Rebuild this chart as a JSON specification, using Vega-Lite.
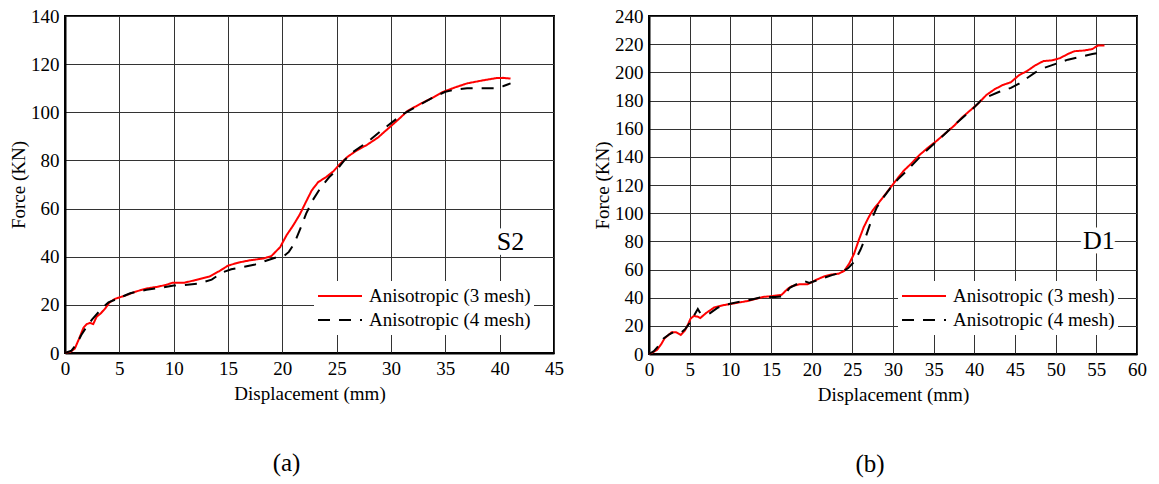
{
  "$schema": "https://vega.github.io/schema/vega-lite/v6.json",
  "padding": {"left": 8, "top": 6, "right": 5, "bottom": 0},
  "background": "white",
  "config": {
    "font": "Liberation Serif",
    "view": {"stroke": "black", "strokeWidth": 2},
    "concat": {"spacing": 27},
    "axis": {
      "labelFont": "Liberation Serif", "labelFontSize": 19, "labelColor": "black", "labelOverlap": false, "labelFlush": false,
      "titleFont": "Liberation Serif", "titleFontSize": 19, "titleFontWeight": "normal", "titleColor": "black",
      "gridColor": "#333333", "gridOpacity": 1, "gridWidth": 1,
      "ticks": false, "domainColor": "black", "domainWidth": 2
    },
    "axisX": {"labelPadding": 6, "titlePadding": 6},
    "axisY": {"labelPadding": 6, "titlePadding": 2},
    "legend": {
      "orient": "none", "legendX": 249, "legendY": 265,
      "fillColor": "white", "padding": 3,
      "labelFont": "Liberation Serif", "labelFontSize": 19, "labelColor": "black", "labelLimit": 400,
      "symbolType": "stroke", "symbolSize": 1936, "symbolStrokeWidth": 2,
      "labelOffset": 6, "clipHeight": 24, "rowPadding": 0
    }
  },
  "resolve": {"scale": {"color": "independent", "strokeDash": "independent"}},
  "datasets": {
    "s2": [
      {"series": "Anisotropic (3 mesh)", "d": 0, "f": 0},
      {"series": "Anisotropic (3 mesh)", "d": 0.5, "f": 0.5},
      {"series": "Anisotropic (3 mesh)", "d": 0.9, "f": 1.8},
      {"series": "Anisotropic (3 mesh)", "d": 1.3, "f": 6},
      {"series": "Anisotropic (3 mesh)", "d": 1.7, "f": 10.5},
      {"series": "Anisotropic (3 mesh)", "d": 2.0, "f": 12},
      {"series": "Anisotropic (3 mesh)", "d": 2.3, "f": 12.5},
      {"series": "Anisotropic (3 mesh)", "d": 2.6, "f": 12},
      {"series": "Anisotropic (3 mesh)", "d": 2.9, "f": 15},
      {"series": "Anisotropic (3 mesh)", "d": 3.3, "f": 16.5},
      {"series": "Anisotropic (3 mesh)", "d": 3.7, "f": 18.5},
      {"series": "Anisotropic (3 mesh)", "d": 4.1, "f": 21},
      {"series": "Anisotropic (3 mesh)", "d": 4.6, "f": 22.5},
      {"series": "Anisotropic (3 mesh)", "d": 5.5, "f": 23.8},
      {"series": "Anisotropic (3 mesh)", "d": 6.5, "f": 25.5},
      {"series": "Anisotropic (3 mesh)", "d": 7.5, "f": 26.8},
      {"series": "Anisotropic (3 mesh)", "d": 8.5, "f": 27.5},
      {"series": "Anisotropic (3 mesh)", "d": 9.3, "f": 28.3},
      {"series": "Anisotropic (3 mesh)", "d": 9.9, "f": 29.2},
      {"series": "Anisotropic (3 mesh)", "d": 11, "f": 29.2},
      {"series": "Anisotropic (3 mesh)", "d": 12, "f": 30.3},
      {"series": "Anisotropic (3 mesh)", "d": 13.3, "f": 31.8},
      {"series": "Anisotropic (3 mesh)", "d": 14.2, "f": 34},
      {"series": "Anisotropic (3 mesh)", "d": 15, "f": 36.3},
      {"series": "Anisotropic (3 mesh)", "d": 16, "f": 37.6},
      {"series": "Anisotropic (3 mesh)", "d": 17, "f": 38.5},
      {"series": "Anisotropic (3 mesh)", "d": 18.3, "f": 39.3},
      {"series": "Anisotropic (3 mesh)", "d": 19, "f": 40.3},
      {"series": "Anisotropic (3 mesh)", "d": 19.8, "f": 44},
      {"series": "Anisotropic (3 mesh)", "d": 20.4, "f": 49},
      {"series": "Anisotropic (3 mesh)", "d": 21, "f": 53},
      {"series": "Anisotropic (3 mesh)", "d": 21.6, "f": 57.5},
      {"series": "Anisotropic (3 mesh)", "d": 22.2, "f": 63},
      {"series": "Anisotropic (3 mesh)", "d": 22.7, "f": 67.5},
      {"series": "Anisotropic (3 mesh)", "d": 23.3, "f": 71},
      {"series": "Anisotropic (3 mesh)", "d": 24, "f": 73},
      {"series": "Anisotropic (3 mesh)", "d": 24.7, "f": 75.5},
      {"series": "Anisotropic (3 mesh)", "d": 25.3, "f": 78.5},
      {"series": "Anisotropic (3 mesh)", "d": 26, "f": 81.5},
      {"series": "Anisotropic (3 mesh)", "d": 26.8, "f": 84},
      {"series": "Anisotropic (3 mesh)", "d": 27.8, "f": 86.5},
      {"series": "Anisotropic (3 mesh)", "d": 28.8, "f": 89.5},
      {"series": "Anisotropic (3 mesh)", "d": 29.8, "f": 93.5},
      {"series": "Anisotropic (3 mesh)", "d": 30.8, "f": 97.5},
      {"series": "Anisotropic (3 mesh)", "d": 31.5, "f": 100.5},
      {"series": "Anisotropic (3 mesh)", "d": 32.7, "f": 103.5},
      {"series": "Anisotropic (3 mesh)", "d": 33.8, "f": 106},
      {"series": "Anisotropic (3 mesh)", "d": 34.8, "f": 108.5},
      {"series": "Anisotropic (3 mesh)", "d": 36, "f": 110.5},
      {"series": "Anisotropic (3 mesh)", "d": 37, "f": 112},
      {"series": "Anisotropic (3 mesh)", "d": 38.5, "f": 113.3},
      {"series": "Anisotropic (3 mesh)", "d": 39.7, "f": 114.2},
      {"series": "Anisotropic (3 mesh)", "d": 40.3, "f": 114.3},
      {"series": "Anisotropic (3 mesh)", "d": 41, "f": 114},
      {"series": "Anisotropic (4 mesh)", "d": 0, "f": 0},
      {"series": "Anisotropic (4 mesh)", "d": 0.6, "f": 1},
      {"series": "Anisotropic (4 mesh)", "d": 1.1, "f": 4},
      {"series": "Anisotropic (4 mesh)", "d": 1.5, "f": 7.5},
      {"series": "Anisotropic (4 mesh)", "d": 2, "f": 11},
      {"series": "Anisotropic (4 mesh)", "d": 2.5, "f": 14},
      {"series": "Anisotropic (4 mesh)", "d": 3, "f": 16.5},
      {"series": "Anisotropic (4 mesh)", "d": 3.5, "f": 19},
      {"series": "Anisotropic (4 mesh)", "d": 4, "f": 21},
      {"series": "Anisotropic (4 mesh)", "d": 4.8, "f": 22.5},
      {"series": "Anisotropic (4 mesh)", "d": 6, "f": 24.8},
      {"series": "Anisotropic (4 mesh)", "d": 7.5, "f": 26.3},
      {"series": "Anisotropic (4 mesh)", "d": 9, "f": 27.2},
      {"series": "Anisotropic (4 mesh)", "d": 10, "f": 28},
      {"series": "Anisotropic (4 mesh)", "d": 11, "f": 28.2},
      {"series": "Anisotropic (4 mesh)", "d": 12.3, "f": 28.8},
      {"series": "Anisotropic (4 mesh)", "d": 13.5, "f": 30.5},
      {"series": "Anisotropic (4 mesh)", "d": 14.5, "f": 33.5},
      {"series": "Anisotropic (4 mesh)", "d": 15.3, "f": 34.8},
      {"series": "Anisotropic (4 mesh)", "d": 16.5, "f": 35.8},
      {"series": "Anisotropic (4 mesh)", "d": 17.5, "f": 36.8},
      {"series": "Anisotropic (4 mesh)", "d": 18.5, "f": 38.3},
      {"series": "Anisotropic (4 mesh)", "d": 19.5, "f": 39.8},
      {"series": "Anisotropic (4 mesh)", "d": 20.2, "f": 40.5},
      {"series": "Anisotropic (4 mesh)", "d": 20.6, "f": 42},
      {"series": "Anisotropic (4 mesh)", "d": 21.1, "f": 45.5},
      {"series": "Anisotropic (4 mesh)", "d": 21.6, "f": 51},
      {"series": "Anisotropic (4 mesh)", "d": 22.2, "f": 58},
      {"series": "Anisotropic (4 mesh)", "d": 22.8, "f": 63.5},
      {"series": "Anisotropic (4 mesh)", "d": 23.5, "f": 68.5},
      {"series": "Anisotropic (4 mesh)", "d": 24.3, "f": 73},
      {"series": "Anisotropic (4 mesh)", "d": 25, "f": 76},
      {"series": "Anisotropic (4 mesh)", "d": 25.7, "f": 80},
      {"series": "Anisotropic (4 mesh)", "d": 26.5, "f": 83.5},
      {"series": "Anisotropic (4 mesh)", "d": 27.3, "f": 86},
      {"series": "Anisotropic (4 mesh)", "d": 28.2, "f": 89},
      {"series": "Anisotropic (4 mesh)", "d": 29, "f": 92},
      {"series": "Anisotropic (4 mesh)", "d": 30, "f": 95.5},
      {"series": "Anisotropic (4 mesh)", "d": 31, "f": 99},
      {"series": "Anisotropic (4 mesh)", "d": 32, "f": 101.5},
      {"series": "Anisotropic (4 mesh)", "d": 33, "f": 104},
      {"series": "Anisotropic (4 mesh)", "d": 34, "f": 106.5},
      {"series": "Anisotropic (4 mesh)", "d": 35, "f": 108.5},
      {"series": "Anisotropic (4 mesh)", "d": 36, "f": 109.5},
      {"series": "Anisotropic (4 mesh)", "d": 37, "f": 110},
      {"series": "Anisotropic (4 mesh)", "d": 38.5, "f": 110},
      {"series": "Anisotropic (4 mesh)", "d": 39.5, "f": 110},
      {"series": "Anisotropic (4 mesh)", "d": 40.3, "f": 110.8},
      {"series": "Anisotropic (4 mesh)", "d": 41, "f": 112}
    ],
    "d1": [
      {"series": "Anisotropic (3 mesh)", "d": 0, "f": 0},
      {"series": "Anisotropic (3 mesh)", "d": 0.4, "f": 1},
      {"series": "Anisotropic (3 mesh)", "d": 1, "f": 3},
      {"series": "Anisotropic (3 mesh)", "d": 1.5, "f": 7},
      {"series": "Anisotropic (3 mesh)", "d": 1.9, "f": 11},
      {"series": "Anisotropic (3 mesh)", "d": 2.4, "f": 13.5},
      {"series": "Anisotropic (3 mesh)", "d": 2.8, "f": 15.5},
      {"series": "Anisotropic (3 mesh)", "d": 3.3, "f": 15.5},
      {"series": "Anisotropic (3 mesh)", "d": 3.9, "f": 13.5},
      {"series": "Anisotropic (3 mesh)", "d": 4.4, "f": 16.5},
      {"series": "Anisotropic (3 mesh)", "d": 4.8, "f": 21},
      {"series": "Anisotropic (3 mesh)", "d": 5.1, "f": 25},
      {"series": "Anisotropic (3 mesh)", "d": 5.5, "f": 27},
      {"series": "Anisotropic (3 mesh)", "d": 6, "f": 26.5},
      {"series": "Anisotropic (3 mesh)", "d": 6.3, "f": 25.5},
      {"series": "Anisotropic (3 mesh)", "d": 7, "f": 29},
      {"series": "Anisotropic (3 mesh)", "d": 8, "f": 33},
      {"series": "Anisotropic (3 mesh)", "d": 9, "f": 34.5},
      {"series": "Anisotropic (3 mesh)", "d": 10, "f": 35.5},
      {"series": "Anisotropic (3 mesh)", "d": 11, "f": 36.5},
      {"series": "Anisotropic (3 mesh)", "d": 12, "f": 37.5},
      {"series": "Anisotropic (3 mesh)", "d": 13, "f": 39},
      {"series": "Anisotropic (3 mesh)", "d": 14, "f": 40.5},
      {"series": "Anisotropic (3 mesh)", "d": 15, "f": 41},
      {"series": "Anisotropic (3 mesh)", "d": 16.3, "f": 42},
      {"series": "Anisotropic (3 mesh)", "d": 17, "f": 46},
      {"series": "Anisotropic (3 mesh)", "d": 17.5, "f": 48},
      {"series": "Anisotropic (3 mesh)", "d": 18.5, "f": 49.5},
      {"series": "Anisotropic (3 mesh)", "d": 19.5, "f": 49.5},
      {"series": "Anisotropic (3 mesh)", "d": 20.5, "f": 52.5},
      {"series": "Anisotropic (3 mesh)", "d": 21.5, "f": 55},
      {"series": "Anisotropic (3 mesh)", "d": 22.5, "f": 56.5},
      {"series": "Anisotropic (3 mesh)", "d": 23.3, "f": 57},
      {"series": "Anisotropic (3 mesh)", "d": 24, "f": 59},
      {"series": "Anisotropic (3 mesh)", "d": 24.6, "f": 64},
      {"series": "Anisotropic (3 mesh)", "d": 25.2, "f": 71},
      {"series": "Anisotropic (3 mesh)", "d": 25.8, "f": 81},
      {"series": "Anisotropic (3 mesh)", "d": 26.4, "f": 90},
      {"series": "Anisotropic (3 mesh)", "d": 27, "f": 97},
      {"series": "Anisotropic (3 mesh)", "d": 27.5, "f": 102},
      {"series": "Anisotropic (3 mesh)", "d": 28.2, "f": 107},
      {"series": "Anisotropic (3 mesh)", "d": 29, "f": 113},
      {"series": "Anisotropic (3 mesh)", "d": 29.8, "f": 119},
      {"series": "Anisotropic (3 mesh)", "d": 30.6, "f": 125},
      {"series": "Anisotropic (3 mesh)", "d": 31.3, "f": 130},
      {"series": "Anisotropic (3 mesh)", "d": 32.2, "f": 135},
      {"series": "Anisotropic (3 mesh)", "d": 33.2, "f": 141},
      {"series": "Anisotropic (3 mesh)", "d": 34.3, "f": 146.5},
      {"series": "Anisotropic (3 mesh)", "d": 35.3, "f": 151},
      {"series": "Anisotropic (3 mesh)", "d": 36.3, "f": 156},
      {"series": "Anisotropic (3 mesh)", "d": 37.5, "f": 162},
      {"series": "Anisotropic (3 mesh)", "d": 38.5, "f": 168},
      {"series": "Anisotropic (3 mesh)", "d": 39.5, "f": 173},
      {"series": "Anisotropic (3 mesh)", "d": 40.5, "f": 178},
      {"series": "Anisotropic (3 mesh)", "d": 41.5, "f": 184},
      {"series": "Anisotropic (3 mesh)", "d": 42.5, "f": 188},
      {"series": "Anisotropic (3 mesh)", "d": 43.5, "f": 191},
      {"series": "Anisotropic (3 mesh)", "d": 44.5, "f": 193},
      {"series": "Anisotropic (3 mesh)", "d": 45.5, "f": 198},
      {"series": "Anisotropic (3 mesh)", "d": 46.5, "f": 201},
      {"series": "Anisotropic (3 mesh)", "d": 47.5, "f": 205},
      {"series": "Anisotropic (3 mesh)", "d": 48.5, "f": 208},
      {"series": "Anisotropic (3 mesh)", "d": 49.5, "f": 208.5},
      {"series": "Anisotropic (3 mesh)", "d": 50.5, "f": 210},
      {"series": "Anisotropic (3 mesh)", "d": 51.5, "f": 213},
      {"series": "Anisotropic (3 mesh)", "d": 52.3, "f": 215},
      {"series": "Anisotropic (3 mesh)", "d": 53.5, "f": 215.5},
      {"series": "Anisotropic (3 mesh)", "d": 54.5, "f": 216.5},
      {"series": "Anisotropic (3 mesh)", "d": 55.2, "f": 219},
      {"series": "Anisotropic (3 mesh)", "d": 56, "f": 219},
      {"series": "Anisotropic (4 mesh)", "d": 0, "f": 0},
      {"series": "Anisotropic (4 mesh)", "d": 0.6, "f": 2},
      {"series": "Anisotropic (4 mesh)", "d": 1.2, "f": 6},
      {"series": "Anisotropic (4 mesh)", "d": 1.8, "f": 11},
      {"series": "Anisotropic (4 mesh)", "d": 2.5, "f": 14},
      {"series": "Anisotropic (4 mesh)", "d": 3, "f": 15.5},
      {"series": "Anisotropic (4 mesh)", "d": 3.5, "f": 15},
      {"series": "Anisotropic (4 mesh)", "d": 4, "f": 15.5},
      {"series": "Anisotropic (4 mesh)", "d": 4.5, "f": 18},
      {"series": "Anisotropic (4 mesh)", "d": 5, "f": 22},
      {"series": "Anisotropic (4 mesh)", "d": 5.5, "f": 27},
      {"series": "Anisotropic (4 mesh)", "d": 6, "f": 32},
      {"series": "Anisotropic (4 mesh)", "d": 6.3, "f": 29},
      {"series": "Anisotropic (4 mesh)", "d": 7.5, "f": 29},
      {"series": "Anisotropic (4 mesh)", "d": 8.5, "f": 33},
      {"series": "Anisotropic (4 mesh)", "d": 9.5, "f": 35},
      {"series": "Anisotropic (4 mesh)", "d": 11, "f": 37},
      {"series": "Anisotropic (4 mesh)", "d": 12.5, "f": 38.5},
      {"series": "Anisotropic (4 mesh)", "d": 14, "f": 40.5},
      {"series": "Anisotropic (4 mesh)", "d": 15.5, "f": 40.5},
      {"series": "Anisotropic (4 mesh)", "d": 16.5, "f": 41},
      {"series": "Anisotropic (4 mesh)", "d": 17.3, "f": 47},
      {"series": "Anisotropic (4 mesh)", "d": 18.3, "f": 50},
      {"series": "Anisotropic (4 mesh)", "d": 19, "f": 52},
      {"series": "Anisotropic (4 mesh)", "d": 19.7, "f": 50.5},
      {"series": "Anisotropic (4 mesh)", "d": 21, "f": 53},
      {"series": "Anisotropic (4 mesh)", "d": 22.5, "f": 56},
      {"series": "Anisotropic (4 mesh)", "d": 23.7, "f": 58},
      {"series": "Anisotropic (4 mesh)", "d": 24.5, "f": 61},
      {"series": "Anisotropic (4 mesh)", "d": 25.3, "f": 66},
      {"series": "Anisotropic (4 mesh)", "d": 26, "f": 74},
      {"series": "Anisotropic (4 mesh)", "d": 26.7, "f": 84},
      {"series": "Anisotropic (4 mesh)", "d": 27.4, "f": 96},
      {"series": "Anisotropic (4 mesh)", "d": 28, "f": 104},
      {"series": "Anisotropic (4 mesh)", "d": 28.8, "f": 111},
      {"series": "Anisotropic (4 mesh)", "d": 29.7, "f": 118},
      {"series": "Anisotropic (4 mesh)", "d": 30.6, "f": 124},
      {"series": "Anisotropic (4 mesh)", "d": 31.5, "f": 129},
      {"series": "Anisotropic (4 mesh)", "d": 32.5, "f": 135},
      {"series": "Anisotropic (4 mesh)", "d": 33.5, "f": 141},
      {"series": "Anisotropic (4 mesh)", "d": 34.6, "f": 147},
      {"series": "Anisotropic (4 mesh)", "d": 35.6, "f": 152},
      {"series": "Anisotropic (4 mesh)", "d": 36.7, "f": 158},
      {"series": "Anisotropic (4 mesh)", "d": 37.8, "f": 164},
      {"series": "Anisotropic (4 mesh)", "d": 38.8, "f": 169},
      {"series": "Anisotropic (4 mesh)", "d": 39.8, "f": 174},
      {"series": "Anisotropic (4 mesh)", "d": 40.8, "f": 180},
      {"series": "Anisotropic (4 mesh)", "d": 41.8, "f": 183},
      {"series": "Anisotropic (4 mesh)", "d": 43, "f": 186},
      {"series": "Anisotropic (4 mesh)", "d": 44.5, "f": 189},
      {"series": "Anisotropic (4 mesh)", "d": 45.5, "f": 192},
      {"series": "Anisotropic (4 mesh)", "d": 46.5, "f": 196},
      {"series": "Anisotropic (4 mesh)", "d": 47.5, "f": 200},
      {"series": "Anisotropic (4 mesh)", "d": 48.5, "f": 203},
      {"series": "Anisotropic (4 mesh)", "d": 50, "f": 206},
      {"series": "Anisotropic (4 mesh)", "d": 51.5, "f": 209},
      {"series": "Anisotropic (4 mesh)", "d": 53, "f": 211},
      {"series": "Anisotropic (4 mesh)", "d": 54.5, "f": 213},
      {"series": "Anisotropic (4 mesh)", "d": 55.5, "f": 214}
    ],
    "labS2": [{"label": "S2", "d": 41.0, "f": 46}],
    "labD1": [{"label": "D1", "d": 55.3, "f": 80}]
  },
  "hconcat": [
    {
      "width": 489, "height": 337,
      "title": {"text": "(a)", "orient": "bottom", "frame": "bounds", "anchor": "middle", "font": "Liberation Serif", "fontSize": 25, "fontWeight": "normal", "color": "black", "offset": 48},
      "encoding": {
        "x": {"field": "d", "type": "quantitative", "scale": {"domain": [0, 45], "nice": false}, "axis": {"title": "Displacement (mm)", "values": [0, 5, 10, 15, 20, 25, 30, 35, 40, 45], "grid": true, "labelOverlap": false, "labelFlush": false}},
        "y": {"field": "f", "type": "quantitative", "scale": {"domain": [0, 140], "nice": false}, "axis": {"title": "Force (KN)", "values": [0, 20, 40, 60, 80, 100, 120, 140], "grid": true, "labelOverlap": false, "labelFlush": false}}
      },
      "layer": [
        {
          "data": {"name": "s2"},
          "mark": {"type": "line", "strokeWidth": 2},
          "encoding": {
            "color": {"field": "series", "type": "nominal", "scale": {"domain": ["Anisotropic (3 mesh)", "Anisotropic (4 mesh)"], "range": ["#ff0000", "#000000"]}, "legend": {"title": null}},
            "strokeDash": {"field": "series", "type": "nominal", "scale": {"domain": ["Anisotropic (3 mesh)", "Anisotropic (4 mesh)"], "range": [[1, 0], [12, 9]]}, "legend": {"title": null}}
          }
        },
        {
          "data": {"name": "labS2"},
          "mark": {"type": "text", "font": "Liberation Serif", "fontSize": 26, "stroke": "white", "strokeWidth": 10, "fill": "white", "align": "center", "baseline": "middle"},
          "encoding": {"text": {"field": "label"}}
        },
        {
          "data": {"name": "labS2"},
          "mark": {"type": "text", "font": "Liberation Serif", "fontSize": 26, "fill": "black", "align": "center", "baseline": "middle"},
          "encoding": {"text": {"field": "label"}}
        }
      ]
    },
    {
      "width": 488, "height": 338,
      "title": {"text": "(b)", "orient": "bottom", "frame": "bounds", "anchor": "middle", "font": "Liberation Serif", "fontSize": 25, "fontWeight": "normal", "color": "black", "offset": 48},
      "encoding": {
        "x": {"field": "d", "type": "quantitative", "scale": {"domain": [0, 60], "nice": false}, "axis": {"title": "Displacement (mm)", "values": [0, 5, 10, 15, 20, 25, 30, 35, 40, 45, 50, 55, 60], "grid": true, "labelOverlap": false, "labelFlush": false}},
        "y": {"field": "f", "type": "quantitative", "scale": {"domain": [0, 240], "nice": false}, "axis": {"title": "Force (KN)", "values": [0, 20, 40, 60, 80, 100, 120, 140, 160, 180, 200, 220, 240], "grid": true, "labelOverlap": false, "labelFlush": false}}
      },
      "layer": [
        {
          "data": {"name": "d1"},
          "mark": {"type": "line", "strokeWidth": 2},
          "encoding": {
            "color": {"field": "series", "type": "nominal", "scale": {"domain": ["Anisotropic (3 mesh)", "Anisotropic (4 mesh)"], "range": ["#ff0000", "#000000"]}, "legend": {"title": null}},
            "strokeDash": {"field": "series", "type": "nominal", "scale": {"domain": ["Anisotropic (3 mesh)", "Anisotropic (4 mesh)"], "range": [[1, 0], [12, 9]]}, "legend": {"title": null}}
          }
        },
        {
          "data": {"name": "labD1"},
          "mark": {"type": "text", "font": "Liberation Serif", "fontSize": 26, "stroke": "white", "strokeWidth": 10, "fill": "white", "align": "center", "baseline": "middle"},
          "encoding": {"text": {"field": "label"}}
        },
        {
          "data": {"name": "labD1"},
          "mark": {"type": "text", "font": "Liberation Serif", "fontSize": 26, "fill": "black", "align": "center", "baseline": "middle"},
          "encoding": {"text": {"field": "label"}}
        }
      ]
    }
  ]
}
